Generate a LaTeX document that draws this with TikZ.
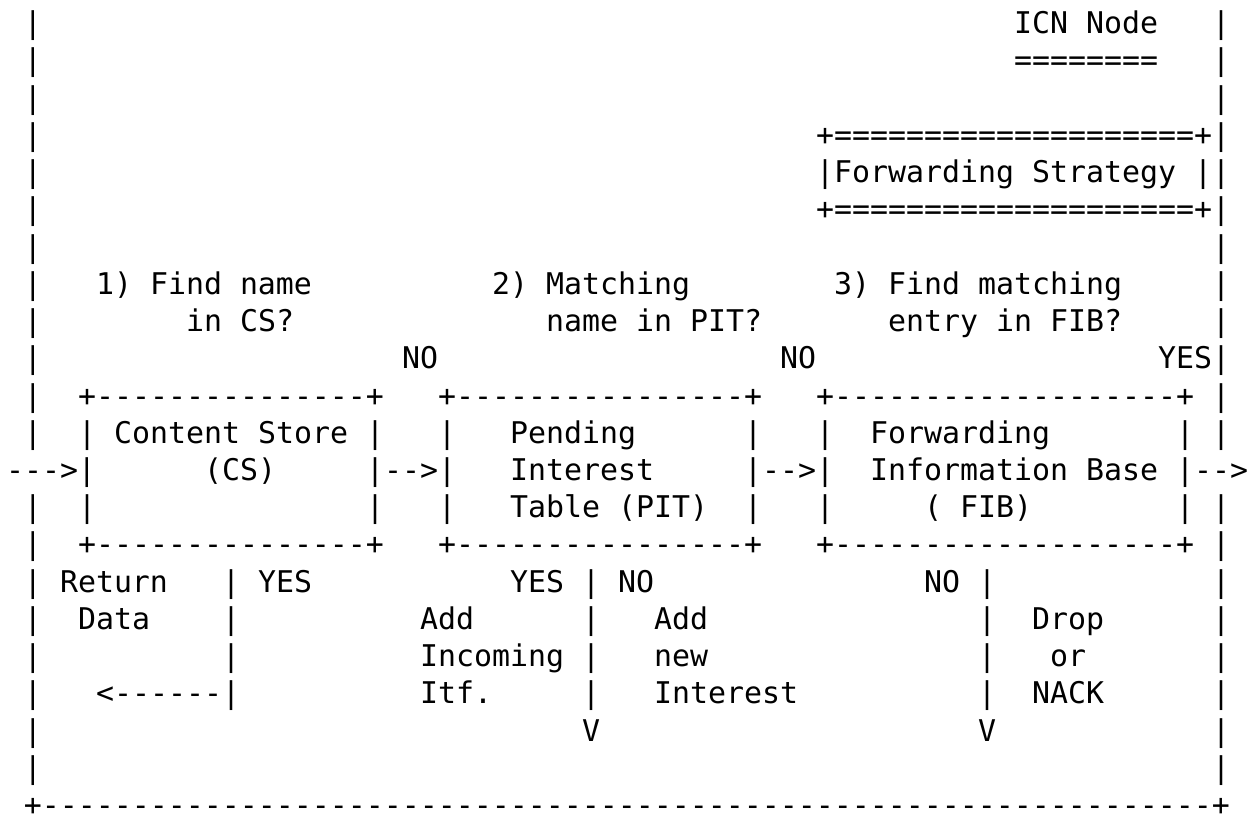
\documentclass[tikz,border=0pt]{standalone}
\usepackage{fontspec}
\setmonofont{DejaVu Sans Mono}
\ExplSyntaxOn
\cs_new:Npn \chrun #1#2 { \prg_replicate:nn {#1} {#2} }
\ExplSyntaxOff

% character grid: 9pt per column, 18.62pt per row, baseline of row 1 at 16.8pt
\tikzset{
  ascii/.style={anchor=base west, inner sep=0pt, outer sep=0pt,
    font=\ttfamily\fontsize{14.95pt}{18pt}\selectfont, text=black},
}
\newcommand\putcell[4]{\node[ascii] (#1) at ({3pt+9pt*#2},{-16.8pt-18.62pt*(#3-1)}) {#4};}

\begin{document}
\begin{tikzpicture}
\fill[white] (0,0) rectangle (628pt,-412pt);
\useasboundingbox (0,0) rectangle (628pt,-412pt);

% sides of the node frame
\foreach \r in {1,2,3,4,5,6,7,8,9,10,11,12,14,15,16,17,18,19,20,21} {
  \putcell{left\r}{1}{\r}{|}
  \putcell{right\r}{67}{\r}{|}
}
\putcell{framebot}{1}{22}{+\chrun{65}{-}+}

% title
\putcell{title}{56}{1}{ICN Node}
\putcell{titlerule}{56}{2}{========}

% forwarding strategy box
\putcell{fstop}{45}{4}{+\chrun{20}{=}+}
\putcell{fsmid}{45}{5}{|Forwarding Strategy |}
\putcell{fsbot}{45}{6}{+\chrun{20}{=}+}

% questions
\putcell{qonea}{5}{8}{1) Find name}
\putcell{qoneb}{10}{9}{in CS?}
\putcell{qtwoa}{27}{8}{2) Matching}
\putcell{qtwob}{30}{9}{name in PIT?}
\putcell{qthreea}{46}{8}{3) Find matching}
\putcell{qthreeb}{49}{9}{entry in FIB?}

\putcell{csno}{22}{10}{NO}
\putcell{pitno}{43}{10}{NO}
\putcell{fibyes}{64}{10}{YES}

% the three tables
\putcell{cstop}{4}{11}{+\chrun{15}{-}+}
\putcell{pittop}{24}{11}{+\chrun{16}{-}+}
\putcell{fibtop}{45}{11}{+\chrun{19}{-}+}

\putcell{csl1}{4}{12}{|}
\putcell{cstxta}{6}{12}{Content Store}
\putcell{csr1}{20}{12}{|}
\putcell{pitl1}{24}{12}{|}
\putcell{pittxta}{28}{12}{Pending}
\putcell{pitr1}{41}{12}{|}
\putcell{fibl1}{45}{12}{|}
\putcell{fibtxta}{48}{12}{Forwarding}
\putcell{fibr1}{65}{12}{|}

\putcell{inarrow}{0}{13}{--->|}
\putcell{cstxtb}{11}{13}{(CS)}
\putcell{cstopit}{20}{13}{|-->|}
\putcell{pittxtb}{28}{13}{Interest}
\putcell{pittofib}{41}{13}{|-->|}
\putcell{fibtxtb}{48}{13}{Information Base}
\putcell{outarrow}{65}{13}{|-->}

\putcell{csl3}{4}{14}{|}
\putcell{csr3}{20}{14}{|}
\putcell{pitl3}{24}{14}{|}
\putcell{pittxtc}{28}{14}{Table (PIT)}
\putcell{pitr3}{41}{14}{|}
\putcell{fibl3}{45}{14}{|}
\putcell{fibtxtc}{51}{14}{( FIB)}
\putcell{fibr3}{65}{14}{|}

\putcell{csbot}{4}{15}{+\chrun{15}{-}+}
\putcell{pitbot}{24}{15}{+\chrun{16}{-}+}
\putcell{fibbot}{45}{15}{+\chrun{19}{-}+}

% outcomes below the tables
\putcell{ret}{3}{16}{Return}
\putcell{csv1}{12}{16}{|}
\putcell{csyes}{14}{16}{YES}
\putcell{pityes}{28}{16}{YES}
\putcell{pitv1}{32}{16}{|}
\putcell{pitnob}{34}{16}{NO}
\putcell{fibno}{51}{16}{NO}
\putcell{fibv1}{54}{16}{|}

\putcell{retdata}{4}{17}{Data}
\putcell{csv2}{12}{17}{|}
\putcell{adda}{23}{17}{Add}
\putcell{pitv2}{32}{17}{|}
\putcell{addb}{36}{17}{Add}
\putcell{fibv2}{54}{17}{|}
\putcell{drop}{57}{17}{Drop}

\putcell{csv3}{12}{18}{|}
\putcell{incoming}{23}{18}{Incoming}
\putcell{pitv3}{32}{18}{|}
\putcell{newi}{36}{18}{new}
\putcell{fibv3}{54}{18}{|}
\putcell{orw}{58}{18}{or}

\putcell{backarrow}{5}{19}{<\chrun{6}{-}|}
\putcell{itf}{23}{19}{Itf.}
\putcell{pitv4}{32}{19}{|}
\putcell{interest}{36}{19}{Interest}
\putcell{fibv4}{54}{19}{|}
\putcell{nack}{57}{19}{NACK}

\putcell{pitdown}{32}{20}{V}
\putcell{fibdown}{54}{20}{V}
\end{tikzpicture}
\end{document}
